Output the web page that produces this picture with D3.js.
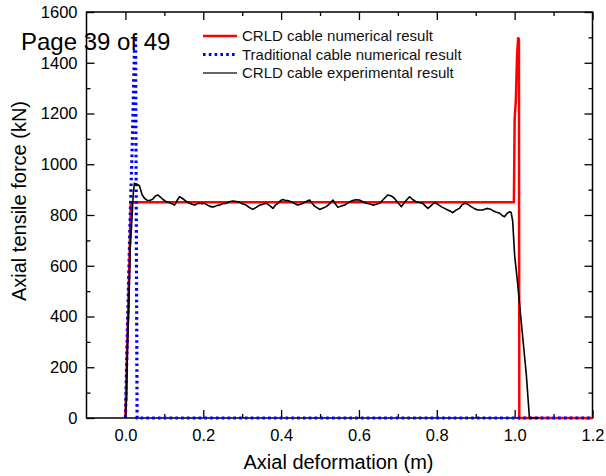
<!DOCTYPE html>
<html>
<head>
    <meta charset="UTF-8">
    <style>
        body { margin: 0; background: #fff; }
        text { font-family: "Liberation Sans", Arial, sans-serif; }
    </style>
</head>
<body>
    <svg></svg>
    <script src="https://d3js.org/d3.v7.min.js"></script>
    <script>
        // series
        let crldNumX = [0, 0.014, 0.998, 0.999, 1.000, 1.003, 1.006, 1.009, 1.011, 1.012, 1.2];
        let crldNumY = [0, 850, 850, 1000, 1180, 1250, 1420, 1500, 1490, 0, 0];

        let tradX = [0, 0.004, 0.012, 0.018, 0.024, 0.026, 0.030, 1.2];
        let tradY = [0, 280, 780, 1100, 1500, 1500, 0, 0];

        let expX = [0, 0.003, 0.005, 0.009, 0.012, 0.017, 0.020, 0.023, 0.028, 0.036, 0.043, 0.049, 0.056, 0.062, 0.070, 0.077, 0.083, 0.090, 0.096, 0.105,
            0.113, 0.126, 0.133, 0.139, 0.146, 0.152, 0.158, 0.165, 0.171, 0.178, 0.185, 0.190, 0.197, 0.203, 0.210, 0.216, 0.222, 0.229, 0.236, 0.242,
            0.250, 0.259, 0.267, 0.276, 0.285, 0.293, 0.302, 0.310, 0.318, 0.327, 0.336, 0.345, 0.353, 0.362, 0.370, 0.379, 0.386, 0.392, 0.398, 0.404,
            0.410, 0.417, 0.424, 0.430, 0.437, 0.443, 0.450, 0.456, 0.465, 0.473, 0.480, 0.486, 0.493, 0.499, 0.508, 0.516, 0.525, 0.533, 0.540, 0.546,
            0.555, 0.563, 0.574, 0.584, 0.592, 0.601, 0.610, 0.619, 0.628, 0.636, 0.645, 0.653, 0.663, 0.674, 0.683, 0.691, 0.700, 0.709, 0.720, 0.730,
            0.739, 0.747, 0.755, 0.764, 0.771, 0.777, 0.786, 0.794, 0.803, 0.811, 0.820, 0.828, 0.835, 0.841, 0.850, 0.858, 0.865, 0.871, 0.880, 0.888,
            0.896, 0.905, 0.912, 0.918, 0.925, 0.931, 0.938, 0.944, 0.952, 0.961, 0.968, 0.974, 0.980, 0.987, 0.991, 0.995, 1.000, 1.007, 1.020, 1.030,
            1.038, 1.062];
        let expY = [0, 80, 270, 450, 660, 790, 880, 925, 922, 915, 880, 866, 858, 857, 862, 875, 879, 870, 862, 852,
            849, 839, 858, 872, 866, 859, 852, 846, 842, 839, 845, 846, 844, 846, 840, 835, 832, 833, 838, 839,
            845, 846, 852, 855, 853, 850, 843, 839, 830, 822, 830, 839, 842, 846, 838, 826, 840, 846, 856, 861,
            858, 857, 853, 849, 843, 839, 842, 846, 853, 859, 845, 835, 828, 822, 828, 833, 845, 859, 842, 830,
            836, 839, 850, 857, 860, 859, 852, 846, 843, 839, 842, 846, 862, 879, 875, 866, 848, 833, 855, 872,
            860, 852, 849, 846, 835, 826, 838, 849, 842, 833, 826, 820, 815, 809, 820, 826, 840, 846, 842, 833,
            826, 820, 820, 820, 824, 826, 823, 817, 812, 807, 798, 793, 805, 813, 810, 775, 640, 540, 330, 170,
            0, 0];

        let xTicks = [0.0, 0.2, 0.4, 0.6, 0.8, 1.0, 1.2];
        let xMinor = [0.1, 0.3, 0.5, 0.7, 0.9, 1.1];
        let yTicks = [0, 200, 400, 600, 800, 1000, 1200, 1400, 1600];
        let yMinor = [100, 300, 500, 700, 900, 1100, 1300, 1500];

        let legendNames = ["CRLD cable numerical result", "Traditional cable numerical result", "CRLD cable experimental result"];

        let width = 606, height = 476;
        let mLeft = 86.5, mRight = 592.5, mTop = 12, mBottom = 418;

        let svg = d3.select("svg")
            .attr("width", width)
            .attr("height", height);

        let x = d3.scaleLinear().domain([-0.1, 1.2]).range([mLeft, mRight]);
        let y = d3.scaleLinear().domain([0, 1600]).range([mBottom, mTop]);

        // axes: ticks point inward on all four sides
        function styleAxis(g) {
            g.select(".domain").remove();
            g.selectAll("line").attr("stroke", "#000").attr("stroke-width", 1.3);
            g.selectAll("text").attr("font-size", 16.5).attr("fill", "#000")
                .attr("font-family", "Liberation Sans, Arial, sans-serif");
        }

        svg.append("g").attr("transform", "translate(0," + mBottom + ")")
            .call(d3.axisBottom(x).tickValues(xTicks).tickSize(-8).tickPadding(11).tickFormat(d3.format(".1f")))
            .call(styleAxis);
        svg.append("g").attr("transform", "translate(0," + mBottom + ")")
            .call(d3.axisBottom(x).tickValues(xMinor).tickSize(-4).tickFormat(""))
            .call(styleAxis);
        svg.append("g").attr("transform", "translate(0," + mTop + ")")
            .call(d3.axisTop(x).tickValues(xTicks).tickSize(-8).tickFormat(""))
            .call(styleAxis);
        svg.append("g").attr("transform", "translate(0," + mTop + ")")
            .call(d3.axisTop(x).tickValues(xMinor).tickSize(-4).tickFormat(""))
            .call(styleAxis);

        svg.append("g").attr("transform", "translate(" + mLeft + ",0)")
            .call(d3.axisLeft(y).tickValues(yTicks).tickSize(-8).tickPadding(9).tickFormat(d3.format("d")))
            .call(styleAxis);
        svg.append("g").attr("transform", "translate(" + mLeft + ",0)")
            .call(d3.axisLeft(y).tickValues(yMinor).tickSize(-4).tickFormat(""))
            .call(styleAxis);
        svg.append("g").attr("transform", "translate(" + mRight + ",0)")
            .call(d3.axisRight(y).tickValues(yTicks).tickSize(-8).tickFormat(""))
            .call(styleAxis);
        svg.append("g").attr("transform", "translate(" + mRight + ",0)")
            .call(d3.axisRight(y).tickValues(yMinor).tickSize(-4).tickFormat(""))
            .call(styleAxis);

        svg.append("rect")
            .attr("x", mLeft).attr("y", mTop)
            .attr("width", mRight - mLeft).attr("height", mBottom - mTop)
            .attr("fill", "none").attr("stroke", "#000").attr("stroke-width", 1.5);

        // lines, drawn in legend order
        let line = d3.line().x(d => x(d[0])).y(d => y(d[1]));

        svg.append("path")
            .datum(d3.zip(crldNumX, crldNumY))
            .attr("d", line)
            .attr("fill", "none").attr("stroke", "#ff0000").attr("stroke-width", 2.5);

        svg.append("path")
            .datum(d3.zip(tradX, tradY))
            .attr("d", line)
            .attr("fill", "none").attr("stroke", "#0000ff").attr("stroke-width", 3.2)
            .attr("stroke-dasharray", "2.6,3.2");

        svg.append("path")
            .datum(d3.zip(expX, expY))
            .attr("d", line)
            .attr("fill", "none").attr("stroke", "#000").attr("stroke-width", 1.6)
            .attr("stroke-linejoin", "round");

        // legend
        let legendColors = ["#ff0000", "#0000ff", "#333"];
        let legendWidths = [2.5, 3.2, 1.3];
        let legendDash = [null, "2.6,3.2", null];
        let lg = svg.append("g");
        legendNames.forEach((name, i) => {
            let ly = 36 + i * 18.5;
            lg.append("line")
                .attr("x1", 203).attr("x2", 237).attr("y1", ly).attr("y2", ly)
                .attr("stroke", legendColors[i]).attr("stroke-width", legendWidths[i])
                .attr("stroke-dasharray", legendDash[i]);
            lg.append("text")
                .attr("x", 242).attr("y", ly + 5)
                .attr("font-size", 15).attr("fill", "#111")
                .text(name);
        });

        // axis titles
        svg.append("text")
            .attr("x", (mLeft + mRight) / 2 - 1).attr("y", 469)
            .attr("text-anchor", "middle").attr("font-size", 20)
            .text("Axial deformation (m)");

        svg.append("text")
            .attr("transform", "translate(26," + 201 + ") rotate(-90)")
            .attr("text-anchor", "middle").attr("font-size", 20)
            .text("Axial tensile force (kN)");

        // page stamp over the chart
        svg.append("text")
            .attr("x", 21).attr("y", 50)
            .attr("font-family", "Noto Sans, Open Sans, sans-serif")
            .attr("font-size", 24).attr("fill", "#000")
            .text("Page 39 of 49");
    </script>
</body>
</html>
